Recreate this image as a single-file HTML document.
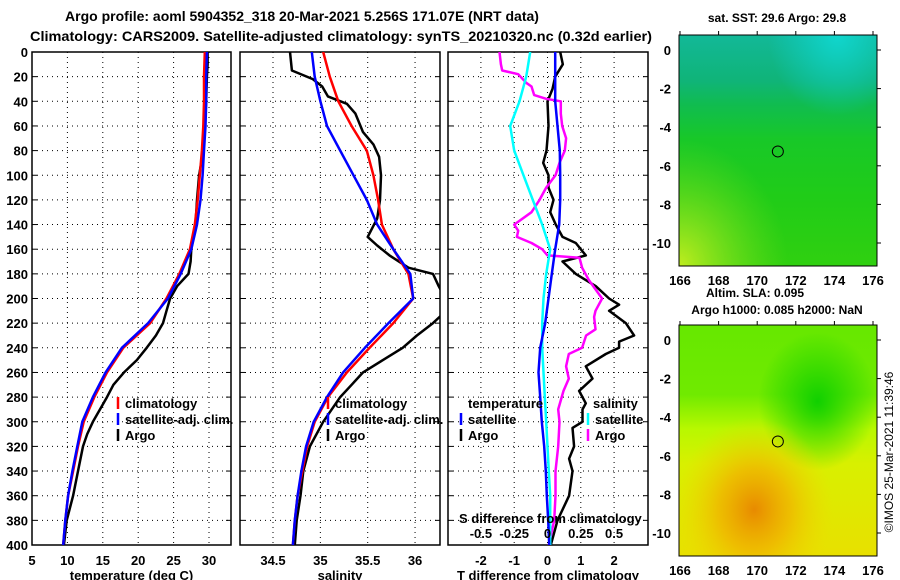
<!DOCTYPE html>
<html><head><meta charset="utf-8"><style>
html,body{margin:0;padding:0;background:#fff;}
svg{display:block;font-family:"Liberation Sans",sans-serif;font-weight:bold;}
</style></head><body>
<svg id="c" width="900" height="580" viewBox="0 0 900 580">
<defs>
<linearGradient id="sstV" x1="0" y1="0" x2="0" y2="1">
<stop offset="0" stop-color="#12b898"/><stop offset="0.2" stop-color="#10b478"/><stop offset="0.3" stop-color="#10bc50"/><stop offset="0.45" stop-color="#18c828"/><stop offset="0.7" stop-color="#20cc18"/><stop offset="1" stop-color="#30d010"/>
</linearGradient>
<radialGradient id="sstCyan" cx="0.8" cy="0" r="0.35"><stop offset="0" stop-color="#10d8d0" stop-opacity="0.95"/><stop offset="1" stop-color="#10d0d0" stop-opacity="0"/></radialGradient>
<radialGradient id="sstYel" cx="0" cy="1" r="0.55"><stop offset="0" stop-color="#d0f020" stop-opacity="0.9"/><stop offset="1" stop-color="#80e020" stop-opacity="0"/></radialGradient>
<linearGradient id="slaV" x1="0" y1="0" x2="0" y2="1">
<stop offset="0" stop-color="#66e800"/><stop offset="0.3" stop-color="#70ea00"/><stop offset="0.45" stop-color="#b8f800"/><stop offset="0.6" stop-color="#d8f000"/><stop offset="1" stop-color="#e8e000"/>
</linearGradient>
<radialGradient id="slaOr" cx="0.38" cy="0.8" r="0.4"><stop offset="0" stop-color="#e88a00"/><stop offset="0.45" stop-color="#f0b400" stop-opacity="0.8"/><stop offset="1" stop-color="#f0d800" stop-opacity="0"/></radialGradient>
<radialGradient id="slaGr" cx="0.7" cy="0.33" r="0.3"><stop offset="0" stop-color="#10d000"/><stop offset="1" stop-color="#10d000" stop-opacity="0"/></radialGradient>
<clipPath id="cp1"><rect x="32" y="52" width="199" height="493"/></clipPath>
<clipPath id="cp2"><rect x="240" y="52" width="200" height="493"/></clipPath>
<clipPath id="cp3"><rect x="448" y="52" width="200" height="493"/></clipPath>
</defs>
<text x="302" y="21" font-size="14" text-anchor="middle">Argo profile: aoml 5904352_318 20-Mar-2021 5.256S 171.07E (NRT data)</text>
<text x="341" y="41" font-size="14" text-anchor="middle" textLength="622" lengthAdjust="spacingAndGlyphs">Climatology: CARS2009. Satellite-adjusted climatology: synTS_20210320.nc (0.32d earlier)</text>
<g id="plots"></g>
<g id="maps"></g>
<text transform="translate(893,452) rotate(-90)" font-size="12" font-weight="normal" text-anchor="middle">©IMOS 25-Mar-2021 11:39:46</text>
</svg>
<script>
// depth levels shared by all profile series
const depths = [0,20,40,60,80,100,120,140,160,180,200,220,240,260,280,300,320,340,360,380,400];
const tempClim = [29.4,29.3,29.3,29.2,29.0,28.7,28.4,28.0,27.3,25.8,24.0,21.7,17.9,15.6,13.8,12.3,11.5,10.8,10.1,9.7,9.4];
const tempSat  = [29.7,29.6,29.6,29.5,29.3,29.1,28.8,28.3,27.5,26.0,24.2,21.4,17.7,15.4,13.6,12.1,11.4,10.7,10.1,9.7,9.4];
const argoDepths = [0,10,20,40,60,80,100,120,140,160,170,180,190,200,210,220,230,240,250,260,270,280,290,300,310,320,340,360,380,400];
const tempArgo = [29.8,29.8,29.7,29.6,29.4,29.2,28.6,28.3,28.1,27.5,27.4,27.1,25.5,24.5,24.0,23.5,22.5,21.2,19.8,18.0,16.5,15.6,14.6,13.6,12.8,12.2,11.5,10.8,9.9,9.5];
const salClim = [35.03,35.10,35.19,35.33,35.49,35.56,35.61,35.65,35.77,35.93,35.98,35.77,35.52,35.28,35.08,34.94,34.86,34.81,34.76,34.73,34.71];
const salSat  = [34.91,34.94,35.00,35.07,35.21,35.35,35.49,35.60,35.77,35.95,35.98,35.72,35.47,35.24,35.07,34.93,34.85,34.80,34.76,34.73,34.71];
const salArgoDepths = [0,15,22,28,36,42,50,65,75,85,100,120,135,150,157,165,175,180,190,200,212,220,230,240,250,260,270,280,300,320,340,360,380,400];
const salArgo = [34.68,34.70,34.92,35.02,35.08,35.28,35.37,35.45,35.56,35.62,35.64,35.63,35.60,35.50,35.60,35.73,35.93,36.19,36.25,36.32,36.30,36.19,36.02,35.87,35.66,35.45,35.33,35.21,35.03,34.89,34.82,34.79,34.75,34.73];
const dTdepths = [0,10,20,30,40,60,80,90,100,110,120,130,140,150,155,165,170,180,190,200,205,210,220,230,235,240,245,255,265,275,285,290,300,305,320,330,340,360,380,400];
const dTargo = [0.38,0.46,0.23,0.15,0.0,0.03,-0.03,-0.13,0.03,0.03,0.18,0.08,0.25,0.45,0.85,1.15,0.45,0.85,1.45,1.85,2.15,1.85,2.35,2.6,2.15,2.15,1.75,1.15,1.35,0.95,1.15,1.05,1.05,0.75,0.8,0.65,0.75,0.65,0.3,0.1];
const dTsat = [0.23,0.23,0.23,0.3,0.37,0.38,0.38,0.35,0.23,0.13,0.03,-0.07,-0.22,-0.27,-0.22,-0.17,-0.1,-0.05,-0.02,0.02,0.05];
const dSsat = [-0.13,-0.16,-0.21,-0.28,-0.25,-0.18,-0.11,-0.04,0.02,-0.01,-0.03,-0.04,-0.04,-0.03,-0.02,-0.01,0.0,0.01,0.02,0.02,0.02];
const dSdepths = [0,10,15,18,25,28,35,38,40,50,60,70,80,90,100,110,120,130,140,145,150,155,160,165,167,175,185,200,210,215,225,230,240,245,255,265,275,290,300,320,340,360,380,400];
const dSargo = [-0.36,-0.35,-0.34,-0.22,-0.16,-0.12,-0.10,-0.01,0.10,0.10,0.11,0.14,0.13,0.09,0.06,-0.01,-0.06,-0.12,-0.25,-0.22,-0.23,-0.12,-0.04,0.0,0.24,0.26,0.31,0.41,0.36,0.35,0.36,0.29,0.26,0.16,0.14,0.16,0.12,0.08,0.09,0.08,0.06,0.06,0.05,0.01];
const depthTicks = [0,20,40,60,80,100,120,140,160,180,200,220,240,260,280,300,320,340,360,380,400];
const tempTicks = [5,10,15,20,25,30];
const salTicks = [34.5,35,35.5,36];
const dTticks = [-2,-1,0,1,2];
const dSticks = [-0.5,-0.25,0,0.25,0.5];
const dSlabels = ['-0.5','-0.25','0','0.25','0.5'];
const lonTicks = [166,168,170,172,174,176];
const latTicks = [0,-2,-4,-6,-8,-10];
const argoLon = 171.07, argoLat = -5.256;

const NS='http://www.w3.org/2000/svg';
function mk(tag,attrs,parent){const e=document.createElementNS(NS,tag);for(const k in attrs)e.setAttribute(k,attrs[k]);parent.appendChild(e);return e;}
const Y0=52,Y1=545;
const yD=d=>Y0+d*(Y1-Y0)/400;
const xT=t=>32+(t-5)*7.08;
const xS=s=>273+(s-34.5)*94.7;
const xDT=t=>547.5+t*33.3;
const xDS=s=>547.5+s*4*33.3;
const G=document.getElementById('plots');

function panel(name,x0,x1,vticks,xf,labels,title,clip){
  const g=mk('g',{},G);
  
  
  depthTicks.forEach(d=>{ if(d>0&&d<400){const l=mk('line',{x1:x0,x2:x1,y1:yD(d),y2:yD(d),stroke:'#000','stroke-width':1,'stroke-dasharray':'1,4'},g);
    
    }
    mk('line',{x1:x0,x2:x0+5,y1:yD(d),y2:yD(d),stroke:'#000'},g);mk('line',{x1:x1-5,x2:x1,y1:yD(d),y2:yD(d),stroke:'#000'},g);});
  vticks.forEach((v,i)=>{const x=xf(v);
    if(x>x0+2&&x<x1-2){const l=mk('line',{x1:x,x2:x,y1:Y0,y2:Y1,stroke:'#000','stroke-dasharray':'1,4'},g);
      
      }
    const t=mk('text',{x:x,y:565,'font-size':13,'text-anchor':'middle'},g);t.textContent=labels[i];
    
    });
  const r=mk('rect',{x:x0,y:Y0,width:x1-x0,height:Y1-Y0,fill:'none',stroke:'#000','stroke-width':1.5},g);
  
  
  const tt=mk('text',{x:(x0+x1)/2,y:580,'font-size':13,'text-anchor':'middle'},g);tt.textContent=title;
  
  
  return mk('g',{'clip-path':'url(#'+clip+')'},g);
}
function line(g,ds,vs,xf,color,name){
  const p=ds.map((d,i)=>(i?'L':'M')+xf(vs[i]).toFixed(1)+','+yD(d).toFixed(1)).join('');
  const e=mk('path',{d:p,fill:'none',stroke:color,'stroke-width':2.5,'stroke-linejoin':'round'},g);
  
  
}
function legend(g,x,y,color,label,name){
  mk('line',{x1:x,x2:x,y1:y-11,y2:y+1,stroke:color,'stroke-width':2.5},g);
  const t=mk('text',{x:x+7,y:y,'font-size':13},g);t.textContent=label;
  
  
}
depthTicks.forEach(d=>{const t=mk('text',{x:28,y:yD(d)+5,'font-size':13,'text-anchor':'end'},G);t.textContent=d;
  
  });

const p1=panel('temperature',32,231,tempTicks,xT,tempTicks.map(String),'temperature (deg C)','cp1');
line(p1,argoDepths,tempArgo,xT,'#000','temp-argo-line');
line(p1,depths,tempClim,xT,'#f00','temp-clim-line');
line(p1,depths,tempSat,xT,'#00f','temp-sat-line');
const L1=p1.parentNode;
legend(L1,118,408,'#f00','climatology','legend-climatology');
legend(L1,118,424,'#00f','satellite-adj. clim.','legend-satellite-adj');
legend(L1,118,440,'#000','Argo','legend-argo');

const p2=panel('salinity',240,440,salTicks,xS,['34.5','35','35.5','36'],'salinity','cp2');
line(p2,salArgoDepths,salArgo,xS,'#000','sal-argo-line');
line(p2,depths,salClim,xS,'#f00','sal-clim-line');
line(p2,depths,salSat,xS,'#00f','sal-sat-line');
const L2=p2.parentNode;
legend(L2,328,408,'#f00','climatology','legend-climatology-2');
legend(L2,328,424,'#00f','satellite-adj. clim.','legend-satellite-adj-2');
legend(L2,328,440,'#000','Argo','legend-argo-2');

const p3=panel('difference',448,648,dTticks,xDT,dTticks.map(String),'T difference from climatology','cp3');
line(p3,dTdepths,dTargo,xDT,'#000','dT-argo-line');
line(p3,dSdepths,dSargo,xDS,'#f0f','dS-argo-line');
line(p3,depths,dSsat,xDS,'#0ff','dS-sat-line');
line(p3,depths,dTsat,xDT,'#00f','dT-sat-line');
const L3=p3.parentNode;
const tl=mk('text',{x:468,y:408,'font-size':13},L3);tl.textContent='temperature';


legend(L3,461,424,'#00f','satellite','legend-temp-satellite');
legend(L3,461,440,'#000','Argo','legend-temp-argo');
const sl=mk('text',{x:593,y:408,'font-size':13},L3);sl.textContent='salinity';


legend(L3,588,424,'#0ff','satellite','legend-sal-satellite');
legend(L3,588,440,'#f0f','Argo','legend-sal-argo');
const st=mk('text',{x:459,y:523,'font-size':13},L3);st.textContent='S difference from climatology';


dSticks.forEach((v,i)=>{const t=mk('text',{x:xDS(v),y:538,'font-size':13,'text-anchor':'middle'},L3);t.textContent=dSlabels[i];
  
  });

const M=document.getElementById('maps');
function map(name,y0,fills,titles){
  const x0=679,x1=877,yt=y0,yb=y0+231;
  const g=mk('g',{},M);
  
  
  fills.forEach(f=>mk('rect',{x:x0,y:yt,width:x1-x0,height:yb-yt,fill:f},g));
  mk('rect',{x:x0,y:yt,width:x1-x0,height:yb-yt,fill:'none',stroke:'#000','stroke-width':1},g);
  const lx=v=>680+(v-166)*19.3, ly=v=>y0+15-v*19.3;
  lonTicks.forEach(v=>{mk('line',{x1:lx(v),x2:lx(v),y1:yt-4,y2:yt,stroke:'#000'},g);
    const t=mk('text',{x:lx(v),y:yb+19,'font-size':13,'text-anchor':'middle'},g);t.textContent=v;
    
    });
  latTicks.forEach(v=>{mk('line',{x1:x1,x2:x1+4,y1:ly(v),y2:ly(v),stroke:'#000'},g);
    const t=mk('text',{x:671,y:ly(v)+5,'font-size':13,'text-anchor':'end'},g);t.textContent=v;
    
    });
  const c=mk('circle',{cx:lx(argoLon),cy:ly(argoLat),r:5.5,fill:'none',stroke:'#000','stroke-width':1},g);
  
  
  titles.forEach(tt=>{const t=mk('text',{x:tt[0],y:tt[1],'font-size':12,'text-anchor':'middle'},g);t.textContent=tt[2];
    
    });
}
map('sst-map',35,['url(#sstV)','url(#sstCyan)','url(#sstYel)'],[[777,22,'sat. SST: 29.6 Argo: 29.8','sst-map-title']]);
map('sla-map',325,['url(#slaV)','url(#slaGr)','url(#slaOr)'],[[755,297,'Altim. SLA: 0.095','sla-title'],[777,314,'Argo h1000: 0.085 h2000: NaN','steric-height-title']]);
</script>
</body></html>
